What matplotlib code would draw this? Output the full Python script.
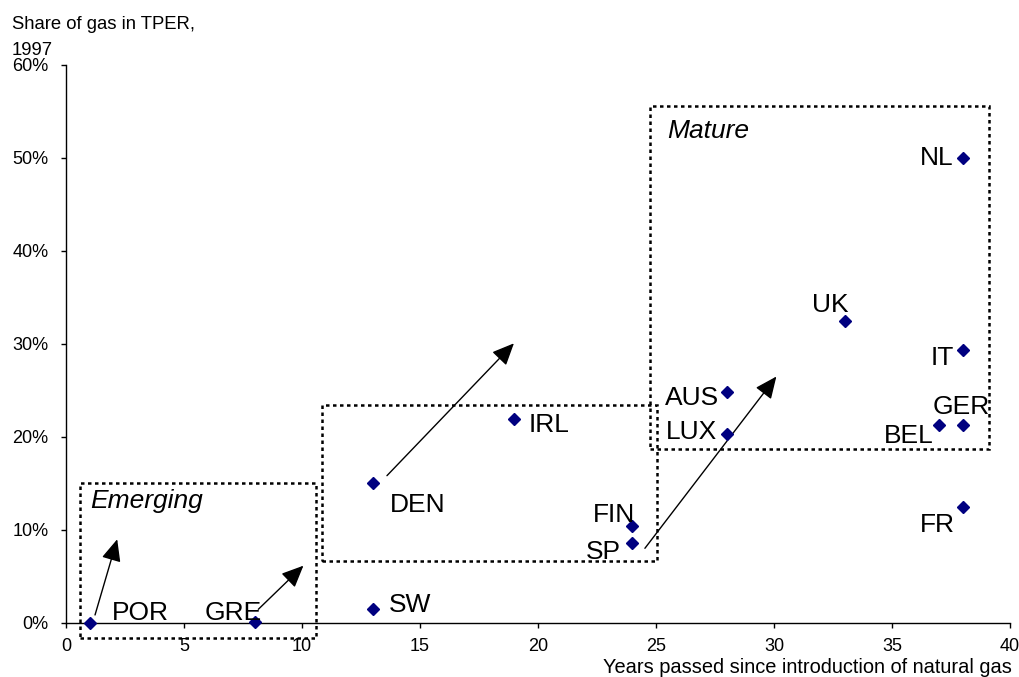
import matplotlib
matplotlib.use("Agg")
import matplotlib.pyplot as plt
from matplotlib.patches import Rectangle
from matplotlib.ticker import FuncFormatter

plt.rcParams['font.family'] = ['Liberation Sans', 'DejaVu Sans']

# Data
countries = ["POR", "GRE", "SW", "DEN", "IRL", "FIN", "SP", "AUS", "LUX",
             "UK", "IT", "BEL", "GER", "FR", "NL"]
years = [1, 8, 13, 13, 19, 24, 24, 28, 28, 33, 38, 37, 38, 38, 38]
gas_share = [0.0, 0.1, 1.5, 15.0, 21.9, 10.4, 8.6, 24.8, 20.3, 32.5, 29.4, 21.3, 21.3, 12.5, 50.0]

# Group boxes (x0, x1, y0, y1) in data units
box_x0 = [0.59, 10.86, 24.75]
box_x1 = [10.59, 25.03, 39.1]
box_y0 = [-1.65, 6.67, 18.7]
box_y1 = [15.09, 23.4, 55.6]
group_names = ["Emerging", "Mature"]
group_x = [1.02, 25.48]
group_y = [12.33, 52.1]

# Arrows (start -> end) in data units
arrow_x0 = [1.23, 8.15, 13.6, 24.53]
arrow_y0 = [0.86, 1.47, 15.84, 8.03]
arrow_x1 = [2.17, 10.06, 18.98, 30.1]
arrow_y1 = [9.0, 6.16, 30.07, 26.5]

# Label offsets in pixels (dx, dy to baseline) and alignment
label_dx = [22, 6.7, 16, 16.7, 14, 2.3, -11.7, -7.4, -9.7, -15, -9.3, -5.3, 27, -8.4, -9.3]
label_dy = [3.3, 2.3, -3, -28.4, -12.4, 4, -16, -12.7, -5, 8.3, -15, -18.3, 11, -25.4, -7]
label_ha = ["left", "right", "left", "left", "left", "right", "right", "right", "right",
            "center", "right", "right", "right", "right", "right"]

fig = plt.figure(figsize=(10.2, 6.77), dpi=100)
ax = fig.add_axes([0.0647, 0.0386, 0.9255, 0.8654])

ax.set_xlim(0, 40)
ax.set_ylim(-3, 60)

for x0, x1, y0, y1 in zip(box_x0, box_x1, box_y0, box_y1):
    ax.add_patch(Rectangle((x0, y0), x1 - x0, y1 - y0, fill=False, edgecolor='black',
                           linewidth=1.8, linestyle=(0, (1.4, 1.4)), zorder=1, clip_on=False))

for name, gx, gy in zip(group_names, group_x, group_y):
    ax.text(gx, gy, name, fontsize=19, style='italic', ha='left', va='baseline')

for x0, y0, x1, y1 in zip(arrow_x0, arrow_y0, arrow_x1, arrow_y1):
    ax.annotate("", xy=(x1, y1), xytext=(x0, y0),
                arrowprops=dict(arrowstyle='-|>,head_length=0.45,head_width=0.2',
                                mutation_scale=30, color='black', lw=1,
                                shrinkA=0, shrinkB=0), zorder=2)

ax.plot(years, gas_share, linestyle='none', marker='D', markersize=6.5,
        color='#000080', zorder=4, clip_on=False)

for name, x, y, dx, dy, ha in zip(countries, years, gas_share, label_dx, label_dy, label_ha):
    ax.annotate(name, xy=(x, y), xytext=(dx, dy), textcoords='offset pixels',
                ha=ha, va='baseline', fontsize=19, zorder=5)

ax.spines['top'].set_visible(False)
ax.spines['right'].set_visible(False)
ax.spines['bottom'].set_position(('data', 0))
ax.spines['left'].set_bounds(0, 60)
ax.spines['bottom'].set_bounds(0, 40)
for s in ['left', 'bottom']:
    ax.spines[s].set_linewidth(1.0)

ax.set_xticks(range(0, 41, 5))
ax.set_yticks(range(0, 61, 10))
ax.yaxis.set_major_formatter(FuncFormatter(lambda v, p: f"{int(v)}%"))
ax.tick_params(axis='both', direction='out', length=3.6, width=1, labelsize=13)
ax.tick_params(axis='x', pad=7.5)
ax.tick_params(axis='y', pad=9)

fig.text(12 / 1020, 1 - 29 / 677, "Share of gas in TPER,", fontsize=13.3, ha='left', va='baseline')
fig.text(12 / 1020, 1 - 55 / 677, "1997", fontsize=13.3, ha='left', va='baseline')
fig.text(1012 / 1020, 1 - 673 / 677, "Years passed since introduction of natural gas",
         fontsize=14.4, ha='right', va='baseline')

fig.savefig("out.png", dpi=100)
